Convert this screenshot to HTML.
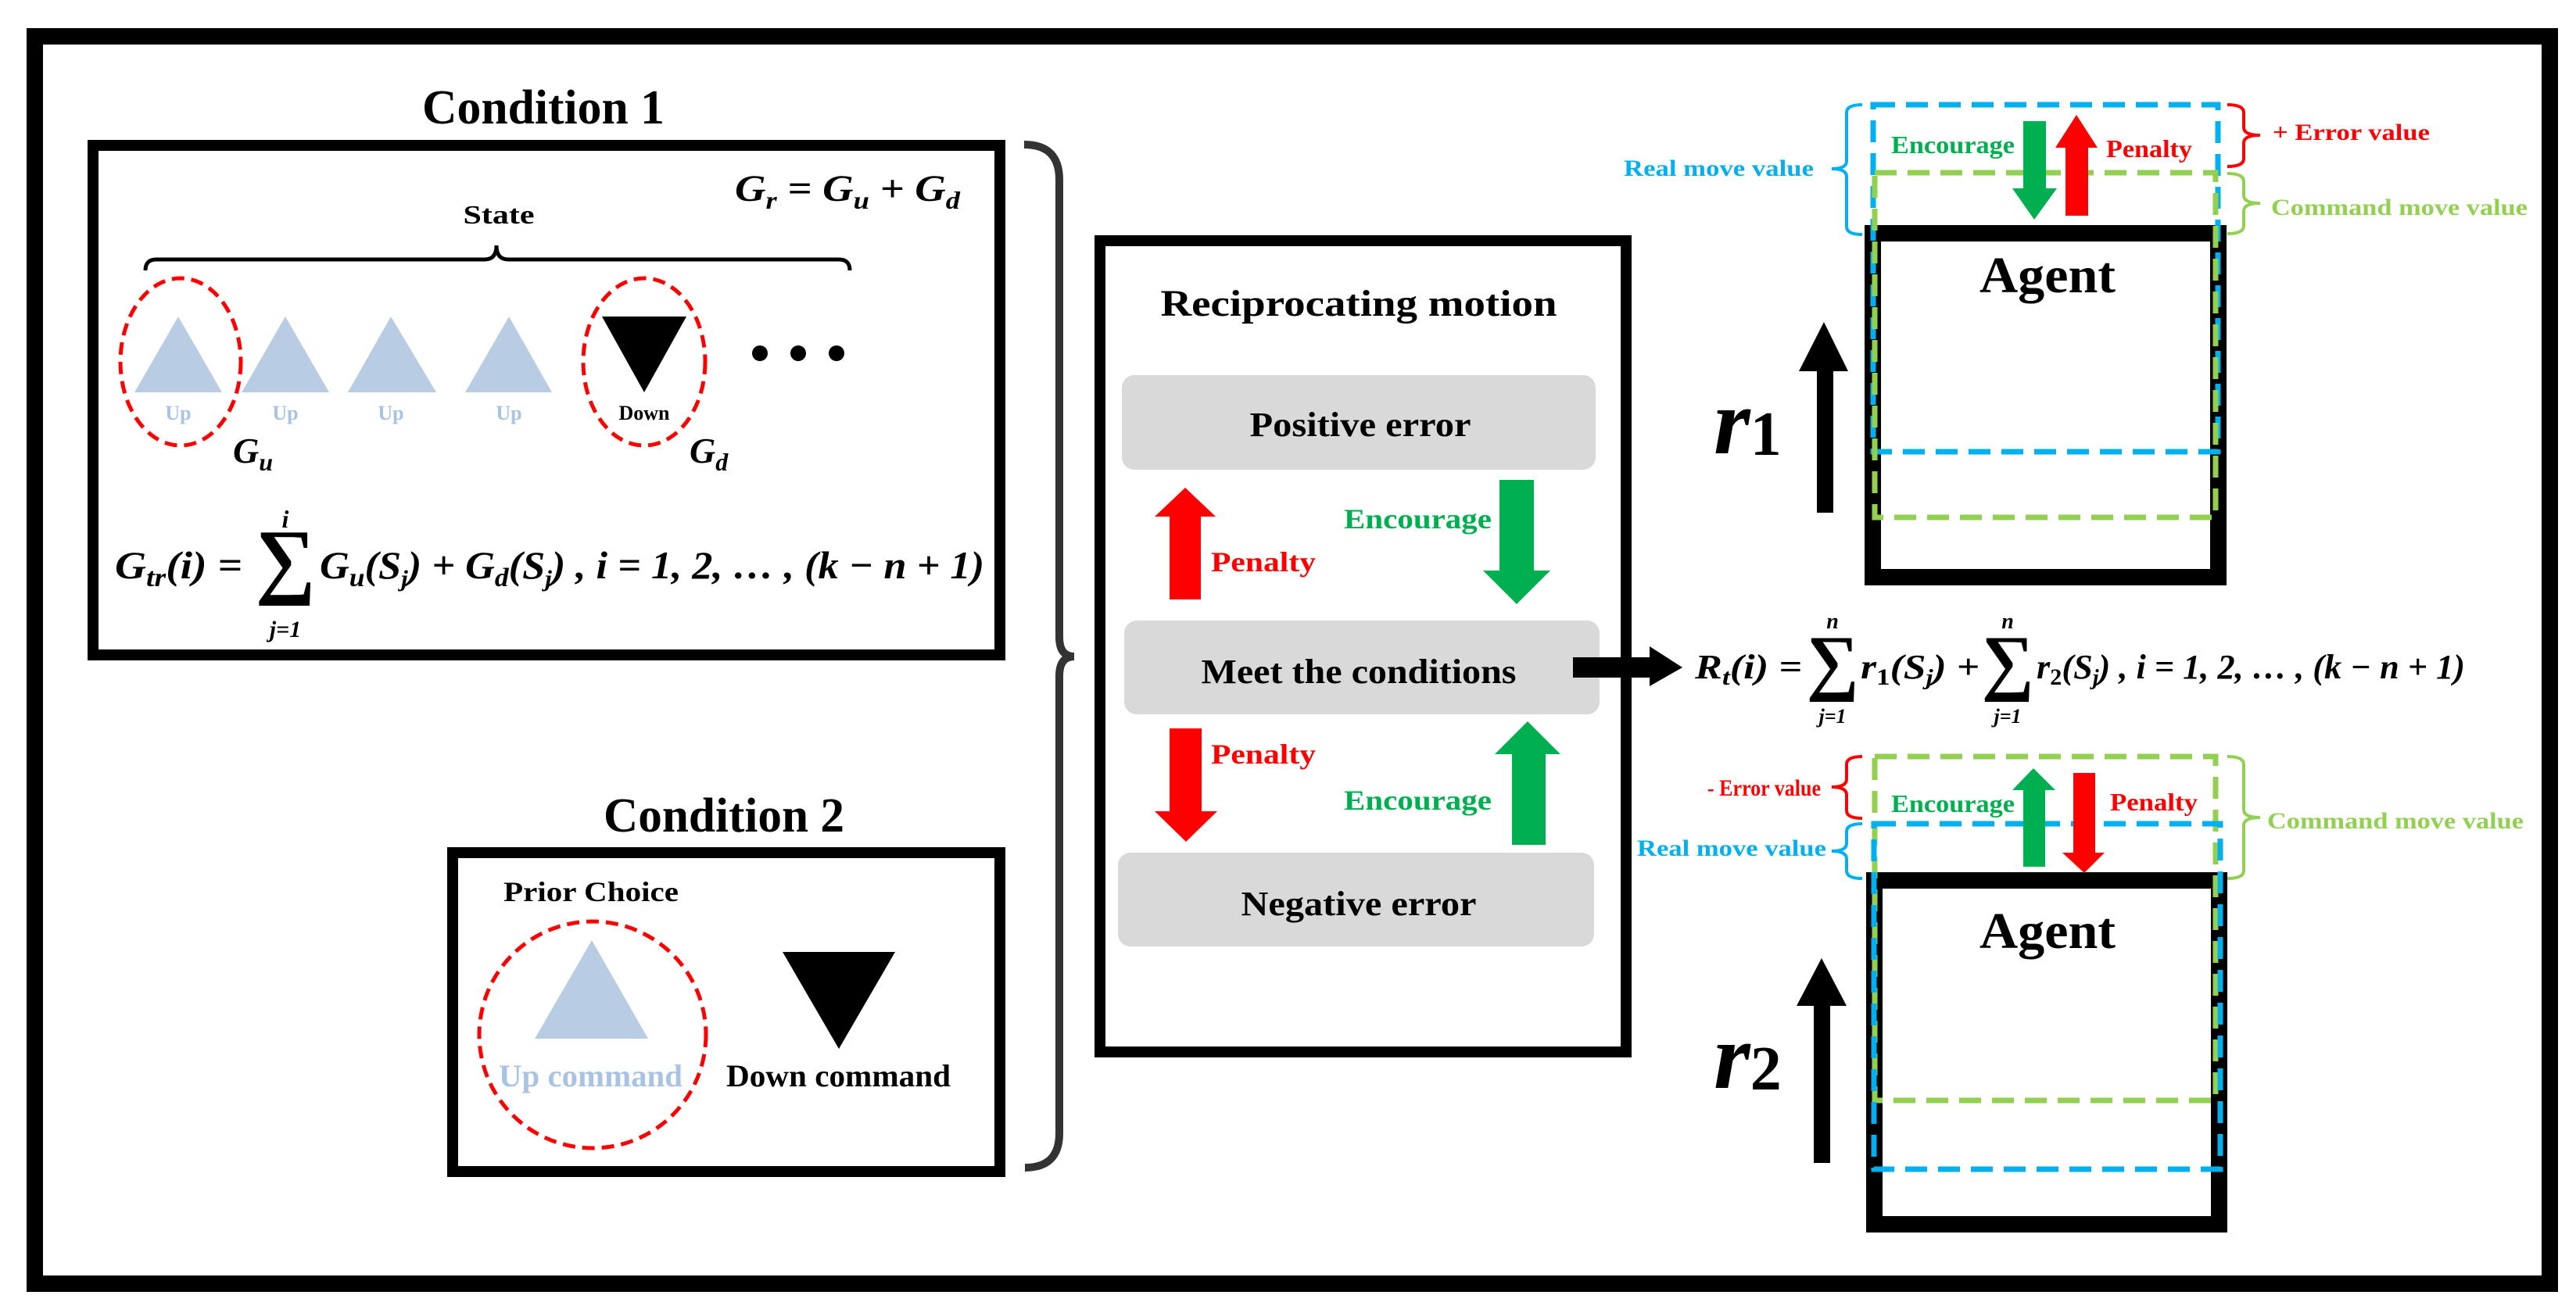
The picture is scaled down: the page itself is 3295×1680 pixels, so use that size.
<!DOCTYPE html>
<html><head><meta charset="utf-8"><style>
html,body{margin:0;padding:0;background:#fff;}
svg{display:block;}
text{font-family:"Liberation Serif",serif;font-weight:bold;}
.m{font-style:italic;}
</style></head><body>
<svg width="3295" height="1680" viewBox="0 0 3295 1680" xmlns="http://www.w3.org/2000/svg">
<rect width="3295" height="1680" fill="#fff"/>
<rect x="44.5" y="46.5" width="3217" height="1596" fill="none" stroke="#000" stroke-width="21"/>

<text x="695" y="158" font-size="62" text-anchor="middle" textLength="310" lengthAdjust="spacingAndGlyphs">Condition 1</text>
<rect x="119" y="186" width="1160" height="652" fill="none" stroke="#000" stroke-width="14"/>
<text x="940" y="257" font-size="48" class="m" textLength="288" lengthAdjust="spacingAndGlyphs">G<tspan font-size="32" dy="10">r</tspan><tspan dy="-10"> = G</tspan><tspan font-size="32" dy="10">u</tspan><tspan dy="-10"> + G</tspan><tspan font-size="32" dy="10">d</tspan></text>
<text x="638" y="286" font-size="34" text-anchor="middle" textLength="91" lengthAdjust="spacingAndGlyphs">State</text>
<path d="M186 346 Q186 332 200 332 L620 332 Q635 332 635 314 Q635 332 650 332 L1073 332 Q1087 332 1087 346" fill="none" stroke="#000" stroke-width="5"/>
<g fill="#b8cce4">
<polygon points="228,405 284,502 172,502"/>
<polygon points="365,405 421,502 309,502"/>
<polygon points="500,405 558,502 445,502"/>
<polygon points="651,405 706,502 595,502"/>
</g>
<polygon points="770,405 878,405 824,502" fill="#000"/>
<g font-size="26" fill="#a9c3e3" text-anchor="middle">
<text x="228" y="537">Up</text><text x="365" y="537">Up</text><text x="500" y="537">Up</text><text x="651" y="537">Up</text>
</g>
<text x="824" y="537" font-size="26" text-anchor="middle">Down</text>
<g fill="none" stroke="#ff0000" stroke-width="5" stroke-dasharray="16 9">
<ellipse cx="231" cy="463" rx="77" ry="107"/>
<ellipse cx="824" cy="463" rx="78" ry="107"/>
</g>
<g fill="#000"><circle cx="972" cy="452" r="10"/><circle cx="1021" cy="452" r="10"/><circle cx="1070" cy="452" r="10"/></g>
<text x="298" y="592" font-size="46" class="m">G<tspan font-size="32" dy="10">u</tspan></text>
<text x="882" y="592" font-size="46" class="m">G<tspan font-size="32" dy="10">d</tspan></text>
<text x="147" y="740" font-size="50" class="m" textLength="163" lengthAdjust="spacingAndGlyphs">G<tspan font-size="34" dy="10">tr</tspan><tspan dy="-10">(i) =</tspan></text>
<text x="365" y="752" font-size="108" text-anchor="middle" font-weight="normal">∑</text>
<text x="365" y="675" font-size="32" class="m" text-anchor="middle">i</text>
<text x="365" y="815" font-size="30" class="m" text-anchor="middle">j=1</text>
<text x="409" y="740" font-size="50" class="m" textLength="850" lengthAdjust="spacingAndGlyphs">G<tspan font-size="34" dy="10">u</tspan><tspan dy="-10">(S</tspan><tspan font-size="30" dy="10">j</tspan><tspan dy="-10">) + G</tspan><tspan font-size="34" dy="10">d</tspan><tspan dy="-10">(S</tspan><tspan font-size="30" dy="10">j</tspan><tspan dy="-10">) , i = 1, 2, … , (k − n + 1)</tspan></text>

<text x="926" y="1064" font-size="62" text-anchor="middle" textLength="308" lengthAdjust="spacingAndGlyphs">Condition 2</text>
<rect x="579" y="1091" width="700" height="408" fill="none" stroke="#000" stroke-width="14"/>
<text x="644" y="1153" font-size="36" textLength="224" lengthAdjust="spacingAndGlyphs">Prior Choice</text>
<polygon points="757,1203 829,1329 684,1329" fill="#b8cce4"/>
<polygon points="1001,1218 1145,1218 1073,1342" fill="#000"/>
<circle cx="758" cy="1324" r="145" fill="none" stroke="#ff0000" stroke-width="5" stroke-dasharray="16 9"/>
<text x="638" y="1390" font-size="40" fill="#a9c3e3" textLength="235" lengthAdjust="spacingAndGlyphs">Up command</text>
<text x="929" y="1390" font-size="40" textLength="287" lengthAdjust="spacingAndGlyphs">Down command</text>

<path d="M1310 185 Q1355 185 1355 230 L1355 815 Q1355 840 1374 840 Q1355 840 1355 865 L1355 1450 Q1355 1494 1311 1494" fill="none" stroke="#333" stroke-width="10"/>

<rect x="1407" y="308" width="673" height="1038" fill="none" stroke="#000" stroke-width="14"/>
<text x="1738" y="404" font-size="48" text-anchor="middle" textLength="507" lengthAdjust="spacingAndGlyphs">Reciprocating motion</text>
<rect x="1435" y="480" width="606" height="121" rx="16" fill="#d9d9d9"/>
<rect x="1438" y="794" width="608" height="120" rx="16" fill="#d9d9d9"/>
<rect x="1430" y="1091" width="609" height="120" rx="16" fill="#d9d9d9"/>
<text x="1740" y="558" font-size="44" text-anchor="middle" textLength="283" lengthAdjust="spacingAndGlyphs">Positive error</text>
<text x="1738" y="874" font-size="44" text-anchor="middle" textLength="403" lengthAdjust="spacingAndGlyphs">Meet the conditions</text>
<text x="1738" y="1171" font-size="44" text-anchor="middle" textLength="301" lengthAdjust="spacingAndGlyphs">Negative error</text>
<polygon points="1496,767 1496,661 1477,661 1516,624 1555,661 1536,661 1536,767" fill="#ff0000"/>
<polygon points="1918,614 1962,614 1962,730 1983,730 1940,773 1897,730 1918,730" fill="#00b050"/>
<polygon points="1496,932 1537,932 1537,1038 1557,1038 1517,1077 1477,1038 1496,1038" fill="#ff0000"/>
<polygon points="1934,1081 1934,965 1912,965 1954,923 1996,965 1977,965 1977,1081" fill="#00b050"/>
<text x="1549" y="731" font-size="36" fill="#ff0000" textLength="134" lengthAdjust="spacingAndGlyphs">Penalty</text>
<text x="1719" y="676" font-size="36" fill="#00b050" textLength="189" lengthAdjust="spacingAndGlyphs">Encourage</text>
<text x="1549" y="977" font-size="36" fill="#ff0000" textLength="134" lengthAdjust="spacingAndGlyphs">Penalty</text>
<text x="1719" y="1036" font-size="36" fill="#00b050" textLength="189" lengthAdjust="spacingAndGlyphs">Encourage</text>
<polygon points="2012,841 2110,841 2110,827 2152,854 2110,878 2110,867 2012,867" fill="#000"/>

<text x="2168" y="868" font-size="44" class="m" textLength="137" lengthAdjust="spacingAndGlyphs">R<tspan font-size="30" dy="8">t</tspan><tspan dy="-8">(i) =</tspan></text>
<text x="2344" y="878" font-size="94" text-anchor="middle" font-weight="normal">∑</text>
<text x="2344" y="804" font-size="28" class="m" text-anchor="middle">n</text>
<text x="2344" y="925" font-size="26" class="m" text-anchor="middle">j=1</text>
<text x="2380" y="868" font-size="44" class="m" textLength="152" lengthAdjust="spacingAndGlyphs">r<tspan font-size="30" dy="8" font-style="normal">1</tspan><tspan dy="-8">(S</tspan><tspan font-size="28" dy="8">j</tspan><tspan dy="-8">) +</tspan></text>
<text x="2568" y="878" font-size="94" text-anchor="middle" font-weight="normal">∑</text>
<text x="2568" y="804" font-size="28" class="m" text-anchor="middle">n</text>
<text x="2568" y="925" font-size="26" class="m" text-anchor="middle">j=1</text>
<text x="2605" y="868" font-size="44" class="m" textLength="548" lengthAdjust="spacingAndGlyphs">r<tspan font-size="30" dy="8" font-style="normal">2</tspan><tspan dy="-8">(S</tspan><tspan font-size="28" dy="8">j</tspan><tspan dy="-8">) , i = 1, 2, … , (k − n + 1)</tspan></text>

<rect x="2395.5" y="298.5" width="442" height="440" fill="none" stroke="#000" stroke-width="21"/>
<text x="2619" y="374" font-size="66" text-anchor="middle" textLength="174" lengthAdjust="spacingAndGlyphs">Agent</text>
<g fill="none" stroke-width="7" stroke-dasharray="28 14">
<rect x="2396" y="134" width="441" height="444" stroke="#00b0f0"/>
<rect x="2398" y="221" width="436" height="441" stroke="#92d050"/>
</g>
<polygon points="2588,155 2617,155 2617,241 2631,241 2602,281 2574,241 2588,241" fill="#00b050"/>
<polygon points="2642,276 2642,189 2629,189 2656,147 2683,189 2671,189 2671,276" fill="#ff0000"/>
<text x="2419" y="196" font-size="32" fill="#00b050" textLength="158" lengthAdjust="spacingAndGlyphs">Encourage</text>
<text x="2694" y="201" font-size="32" fill="#ff0000" textLength="110" lengthAdjust="spacingAndGlyphs">Penalty</text>
<g fill="none" stroke-width="4">
<path d="M2849 134 Q2870 134 2870 144 L2870 163 Q2870 173 2891 173 Q2870 173 2870 183 L2870 203 Q2870 213 2849 213" stroke="#ff0000"/>
<path d="M2849 222 Q2870 222 2870 232 L2870 250 Q2870 260 2891 260 Q2870 260 2870 270 L2870 289 Q2870 299 2849 299" stroke="#92d050"/>
<path d="M2382 134 Q2362 134 2362 144 L2362 206 Q2362 216 2343 216 Q2362 216 2362 226 L2362 290 Q2362 300 2382 300" stroke="#00b0f0"/>
</g>
<text x="2907" y="179" font-size="30" fill="#ff0000" textLength="201" lengthAdjust="spacingAndGlyphs">+ Error value</text>
<text x="2905" y="275" font-size="30" fill="#92d050" textLength="328" lengthAdjust="spacingAndGlyphs">Command move value</text>
<text x="2077" y="225" font-size="30" fill="#00b0f0" textLength="243" lengthAdjust="spacingAndGlyphs">Real move value</text>
<polygon points="2324,656 2324,475 2301,475 2333,412 2364,475 2345,475 2345,656" fill="#000"/>
<text x="2192" y="580" font-size="120" class="m" font-weight="normal">r<tspan font-size="80" dy="2" font-style="normal">1</tspan></text>

<rect x="2397.5" y="1126.5" width="441" height="440" fill="none" stroke="#000" stroke-width="21"/>
<text x="2619" y="1213" font-size="66" text-anchor="middle" textLength="174" lengthAdjust="spacingAndGlyphs">Agent</text>
<g fill="none" stroke-width="7" stroke-dasharray="28 14">
<rect x="2398" y="968" width="436" height="440" stroke="#92d050"/>
<rect x="2397" y="1054" width="443" height="442" stroke="#00b0f0"/>
</g>
<polygon points="2588,1109 2588,1011 2574,1011 2601,983 2629,1011 2616,1011 2616,1109" fill="#00b050"/>
<polygon points="2652,989 2680,989 2680,1091 2692,1091 2666,1117 2638,1091 2652,1091" fill="#ff0000"/>
<text x="2419" y="1039" font-size="32" fill="#00b050" textLength="158" lengthAdjust="spacingAndGlyphs">Encourage</text>
<text x="2699" y="1037" font-size="32" fill="#ff0000" textLength="112" lengthAdjust="spacingAndGlyphs">Penalty</text>
<g fill="none" stroke-width="4">
<path d="M2382 968 Q2362 968 2362 978 L2362 997 Q2362 1007 2343 1007 Q2362 1007 2362 1017 L2362 1037 Q2362 1047 2382 1047" stroke="#ff0000"/>
<path d="M2382 1054 Q2362 1054 2362 1064 L2362 1079 Q2362 1089 2343 1089 Q2362 1089 2362 1099 L2362 1114 Q2362 1124 2382 1124" stroke="#00b0f0"/>
<path d="M2849 968 Q2870 968 2870 978 L2870 1036 Q2870 1046 2891 1046 Q2870 1046 2870 1056 L2870 1114 Q2870 1124 2849 1124" stroke="#92d050"/>
</g>
<text x="2184" y="1018" font-size="30" fill="#ff0000" textLength="145" lengthAdjust="spacingAndGlyphs">- Error value</text>
<text x="2094" y="1095" font-size="30" fill="#00b0f0" textLength="242" lengthAdjust="spacingAndGlyphs">Real move value</text>
<text x="2900" y="1060" font-size="30" fill="#92d050" textLength="328" lengthAdjust="spacingAndGlyphs">Command move value</text>
<polygon points="2320,1488 2320,1287 2298,1287 2330,1226 2362,1287 2341,1287 2341,1488" fill="#000"/>
<text x="2192" y="1392" font-size="120" class="m" font-weight="normal">r<tspan font-size="80" dy="2" font-style="normal">2</tspan></text>
</svg>
</body></html>
